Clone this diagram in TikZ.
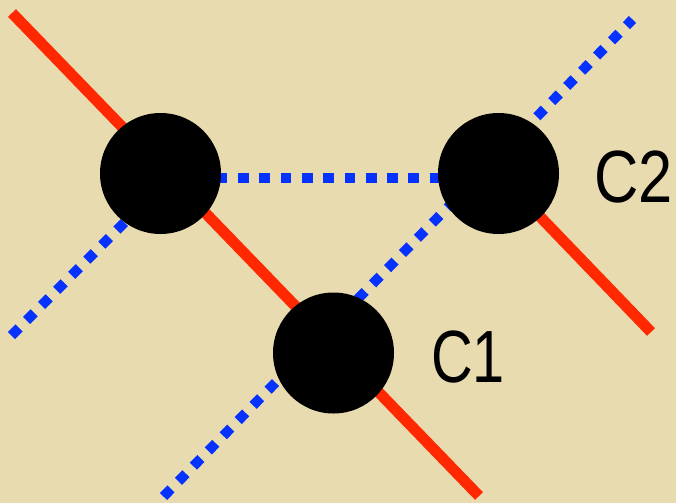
\documentclass[tikz,border=0pt]{standalone}
\usepackage{fontspec}
\usepackage{graphicx}
\setmainfont{Liberation Sans}
\definecolor{paper}{RGB}{233,219,176}
\definecolor{redline}{RGB}{255,40,0}
\definecolor{blueline}{RGB}{5,50,255}
\pgfdeclarelayer{bg}
\pgfdeclarelayer{lines}
\pgfsetlayers{bg,lines,main}
\tikzset{
  atom/.style={circle, fill=black, draw=none, minimum size=121pt, inner sep=0pt},
  redbond/.style={draw=redline, line width=11pt, line cap=butt},
  bluebond/.style={draw=blueline, line width=10pt, line cap=butt, dash pattern=on 10.7pt off 10.6pt},
  lbl/.style={anchor=base west, inner sep=0pt, font=\fontsize{74}{80}\selectfont}
}
\begin{document}
\begin{tikzpicture}[x=1pt,y=-1pt]
  \begin{pgfonlayer}{bg}
    \fill[paper] (0,0) rectangle (676,503);
  \end{pgfonlayer}
  \useasboundingbox (0,0) rectangle (676,503);
  % atoms
  \node[atom] (cl) at (160.5,173.5) {};
  \node[atom] (c2) at (498.5,173.5) {};
  \node[atom] (c1) at (333.5,353) {};
  % free ends
  \coordinate (r0) at (12,13);
  \coordinate (r1) at (479,496);
  \coordinate (r2) at (651,332);
  \coordinate (b0) at (11.5,335.5);
  \coordinate (b1) at (160,187);
  \coordinate (b2) at (163.5,496.5);
  \coordinate (b3) at (632.5,19.5);
  \coordinate (h0) at (216.7,178);
  \coordinate (h1) at (445,178);
  \begin{pgfonlayer}{lines}
    \draw[redbond] (r0) -- (r1);
    \draw[redbond] (c2.center) -- (r2);
    \draw[bluebond] (b0) -- (b1);
    \draw[bluebond] (b2) -- (b3);
    \draw[bluebond] (h0) -- (h1);
  \end{pgfonlayer}
  % labels
  \node[lbl] (t2) at (594,202) {\scalebox{0.83}[1]{C2}};
  \node[lbl] (t1) at (431,382) {\scalebox{0.78}[1]{C1}};
\end{tikzpicture}
\end{document}
